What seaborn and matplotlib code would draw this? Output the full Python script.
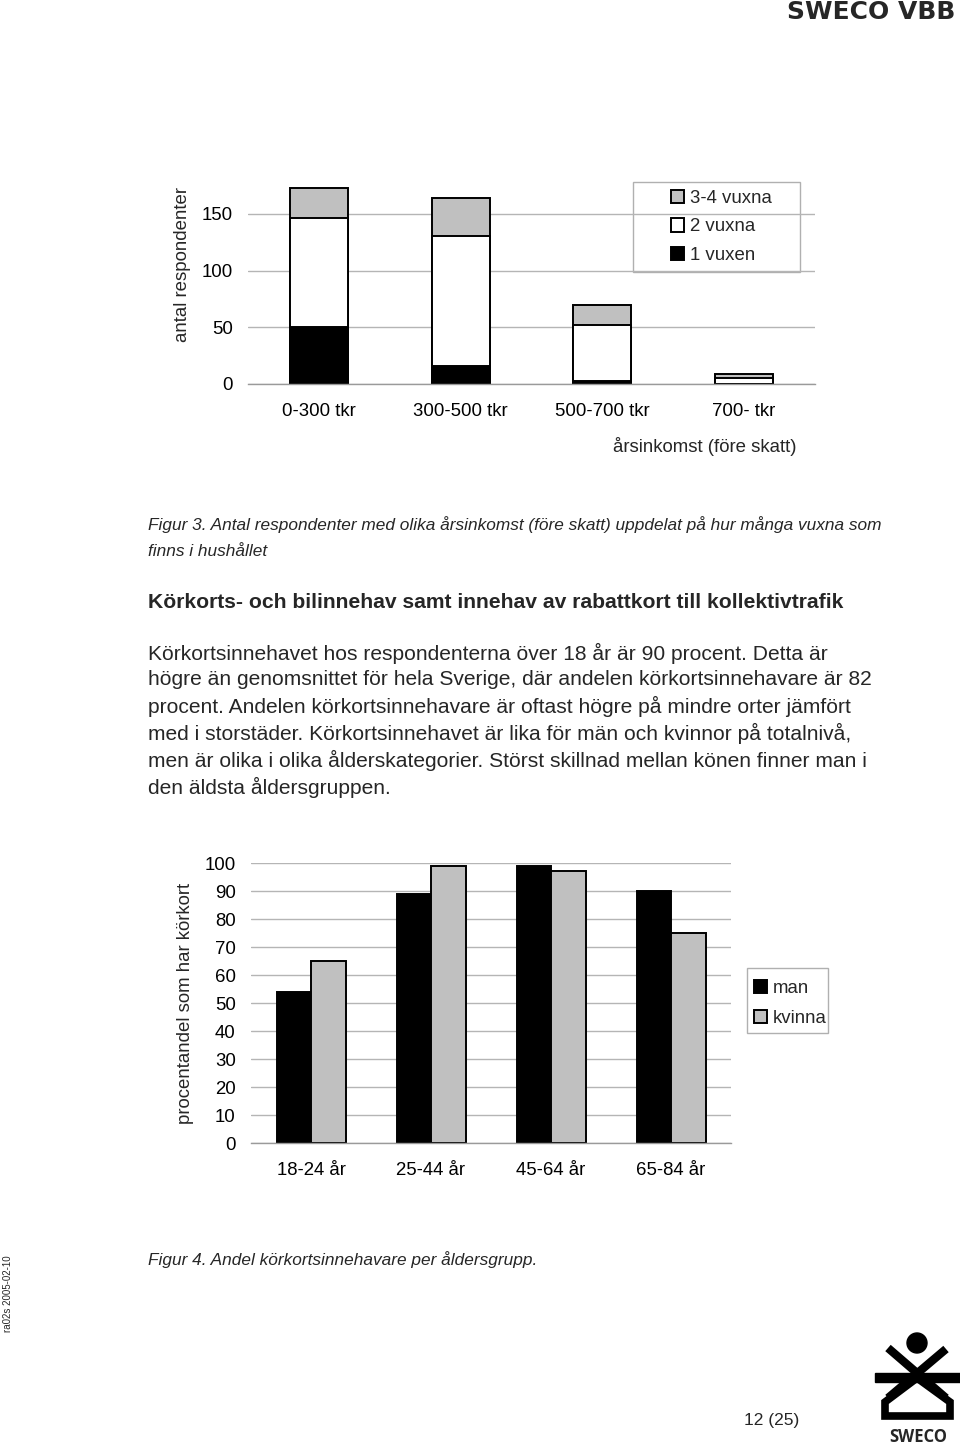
import numpy as np
import pandas as pd
import matplotlib
matplotlib.use("Agg")
import matplotlib.pyplot as plt
import seaborn as sns
from matplotlib.patches import Circle, Polygon, Rectangle

# ---------------- data ----------------
income = ["0-300 tkr", "300-500 tkr", "500-700 tkr", "700- tkr"]
vuxen1 = [50, 16, 3, 0]
vuxna2 = [96, 114, 49, 5]
vuxna34 = [27, 34, 18, 4]
income_ticks = [0, 50, 100, 150]

age = ["18-24 år", "25-44 år", "45-64 år", "65-84 år"]
man = [54, 89, 99, 90]
kvinna = [65, 99, 97, 75]
pct_ticks = list(range(0, 101, 10))

caption3 = ["Figur 3. Antal respondenter med olika årsinkomst (före skatt) uppdelat på hur många vuxna som",
            "finns i hushållet"]
heading = "Körkorts- och bilinnehav samt innehav av rabattkort till kollektivtrafik"
paragraph = [
    "Körkortsinnehavet hos respondenterna över 18 år är 90 procent. Detta är",
    "högre än genomsnittet för hela Sverige, där andelen körkortsinnehavare är 82",
    "procent. Andelen körkortsinnehavare är oftast högre på mindre orter jämfört",
    "med i storstäder. Körkortsinnehavet är lika för män och kvinnor på totalnivå,",
    "men är olika i olika ålderskategorier. Störst skillnad mellan könen finner man i",
    "den äldsta åldersgruppen.",
]
caption4 = "Figur 4. Andel körkortsinnehavare per åldersgrupp."

# ---------------- style ----------------
sns.set_theme(style="white")
plt.rcParams['font.family'] = ['Liberation Sans', 'DejaVu Sans']

W, H = 960, 1449
fig = plt.figure(figsize=(W / 100, H / 100), dpi=100)
fig.patch.set_facecolor("white")

bg = fig.add_axes([0, 0, 1, 1], zorder=0)
bg.set_xlim(0, W)
bg.set_ylim(H, 0)
bg.axis("off")


def fax(l, t, r, b):
    return fig.add_axes([l / W, 1 - b / H, (r - l) / W, (b - t) / H], zorder=2)


GRID = "#b5b5b5"
GRAY = "#c0c0c0"
FS = 13.4


def style_axes(ax, ncat, ticks, ymax):
    ax.set_ylim(0, ymax)
    ax.set_xlim(-0.5, ncat - 0.5)
    ax.set_yticks(ticks)
    ax.yaxis.grid(True, color=GRID, lw=1)
    ax.xaxis.grid(False)
    ax.set_axisbelow(True)
    for s in ["top", "right", "left"]:
        ax.spines[s].set_visible(False)
    ax.spines["bottom"].set_color("#9a9a9a")
    ax.spines["bottom"].set_linewidth(1)
    ax.set_xticks(np.arange(-0.5, ncat, 1.0), minor=True)
    ax.tick_params(axis="x", which="minor", length=5, color="#9a9a9a", width=1, direction="out")
    ax.tick_params(axis="x", which="major", length=0, pad=14, labelsize=FS, colors="black")
    ax.tick_params(axis="y", length=0, pad=11, labelsize=FS, colors="black")
    ax.set_facecolor("none")


def make_legend(ax, handles, labels, hx, ty, box, spacing):
    leg = ax.legend(handles, labels, loc="upper left", bbox_to_anchor=(hx / W, 1 - ty / H),
                    bbox_transform=fig.transFigure, frameon=False,
                    fontsize=FS, handlelength=0.72, handleheight=0.72, handletextpad=0.3,
                    labelspacing=spacing, borderpad=0.0, borderaxespad=0)
    x0, y0, x1, y1 = box
    bg.add_patch(Rectangle((x0, y0), x1 - x0, y1 - y0, fill=False, edgecolor="#b0b0b0", lw=1))
    return leg


# ---------------- chart 1 ----------------
ax1 = fax(248, 182, 815, 384)
df1 = pd.DataFrame({"inkomst": income, "v1": vuxen1, "v2": vuxna2, "v34": vuxna34})
df1["mid"] = df1["v1"] + df1["v2"]
df1["tot"] = df1["mid"] + df1["v34"]
common = dict(edgecolor="black", linewidth=1.4, width=0.41, saturation=1, ax=ax1)
sns.barplot(data=df1, x="inkomst", y="tot", color=GRAY, label="3-4 vuxna", **common)
sns.barplot(data=df1, x="inkomst", y="mid", color="white", label="2 vuxna", **common)
sns.barplot(data=df1, x="inkomst", y="v1", color="black", label="1 vuxen", **common)
style_axes(ax1, len(income), income_ticks, 178)
ax1.set_xlabel("årsinkomst (före skatt)", fontsize=FS)
ax1.xaxis.set_label_coords((705 - 248) / 567, (384 - 446) / 202)
ax1.xaxis.label.set_verticalalignment("center")
ax1.set_ylabel("antal respondenter", fontsize=FS)
ax1.yaxis.set_label_coords((182 - 248) / 567, (384 - 265) / 202)
ax1.yaxis.label.set_verticalalignment("center")
h, l = ax1.get_legend_handles_labels()
make_legend(ax1, h, l, 671, 190, (633, 182, 800, 272), 0.6)

# ---------------- chart 2 ----------------
ax2 = fax(251, 863, 731, 1143)
df2 = pd.DataFrame({"ålder": age * 2,
                    "andel": man + kvinna,
                    "kön": ["man"] * len(age) + ["kvinna"] * len(age)})
sns.barplot(data=df2, x="ålder", y="andel", hue="kön", palette={"man": "black", "kvinna": GRAY},
            edgecolor="black", linewidth=1.4, width=0.575, saturation=1, gap=0, ax=ax2)
style_axes(ax2, len(age), pct_ticks, 100)
ax2.set_xlabel("")
ax2.set_ylabel("procentandel som har körkort", fontsize=FS)
ax2.yaxis.set_label_coords((186 - 251) / 480, (1143 - 1003) / 280)
ax2.yaxis.label.set_verticalalignment("center")
h2, l2 = ax2.get_legend_handles_labels()
ax2.get_legend().remove()
make_legend(ax2, h2, l2, 754, 980, (747, 968, 828, 1033), 0.68)

# ---------------- page text ----------------
bg.text(955, 12, "SWECO VBB", ha="right", va="center", fontsize=18, fontweight="bold",
        family=["DejaVu Sans"])
bg.text(148, 525, caption3[0], ha="left", va="center", fontsize=12.45, style="italic")
bg.text(148, 551, caption3[1], ha="left", va="center", fontsize=12.45, style="italic")
bg.text(148, 602, heading, ha="left", va="center", fontsize=15.2, fontweight="bold")
for i, line in enumerate(paragraph):
    bg.text(148, 653 + i * 26.8, line, ha="left", va="center", fontsize=15.15)
bg.text(148, 1260, caption4, ha="left", va="center", fontsize=12.4, style="italic")
bg.text(8, 1294, "ra02s 2005-02-10", ha="center", va="center", rotation=90, fontsize=7)
bg.text(772, 1420, "12 (25)", ha="center", va="center", fontsize=12.5)

# ---------------- SWECO logo ----------------
bg.add_patch(Circle((917, 1343), 10, color="black"))
bg.plot([888, 946], [1348, 1398], color="black", lw=6, solid_capstyle="butt")
bg.plot([946, 888], [1349, 1398], color="black", lw=6, solid_capstyle="butt")
bg.add_patch(Rectangle((875, 1373), 85, 9, color="black"))
bg.add_patch(Polygon([[917, 1378], [950, 1402], [950, 1416], [885, 1416], [885, 1402]],
                     closed=True, fill=False, edgecolor="black", lw=5.5, joinstyle="miter"))
bg.text(918, 1437, "SWECO", ha="center", va="center", fontsize=12, fontweight="bold",
        family=["Open Sans", "DejaVu Sans"])

fig.savefig("out.png", dpi=100)
